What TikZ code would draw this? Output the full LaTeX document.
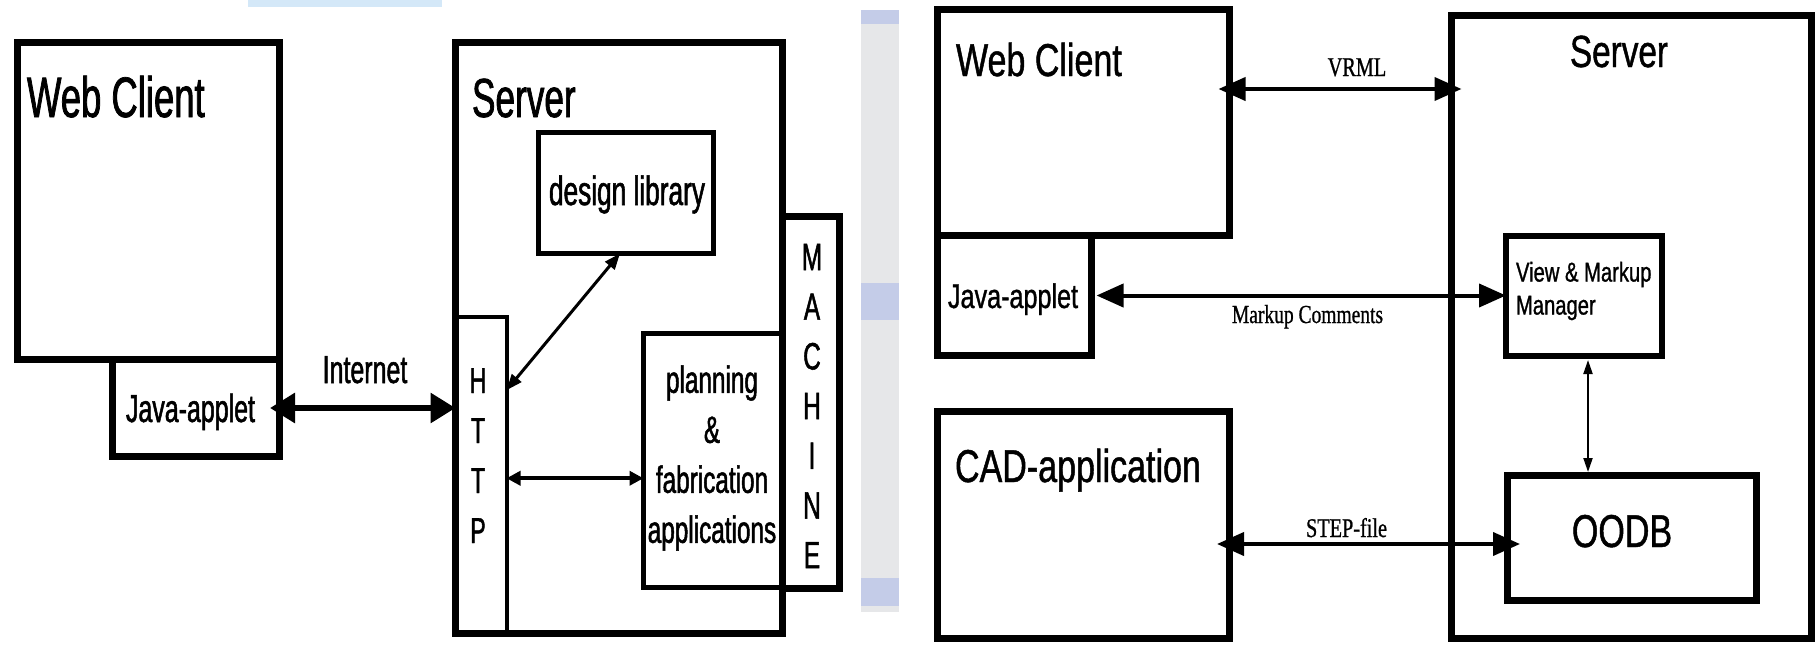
\documentclass[tikz,border=0pt]{standalone}
\usepackage{fontspec}
\setmainfont{Liberation Sans}
% the slide is squeezed sideways, so are its fonts
\newfontfamily\leftsans[FakeStretch=0.64, FakeBold=1.3]{Liberation Sans}
\newfontfamily\rightsans[FakeStretch=0.74, FakeBold=1]{Liberation Sans}
\newfontfamily\rightserif[FakeStretch=0.75, FakeBold=0.8]{Liberation Serif}
\usepackage{tikz}
\usetikzlibrary{
  arrows.meta,%
  calc,%
  positioning
}
\definecolor{topblue}{HTML}{D4E8F8}
\definecolor{stripgrey}{HTML}{E6E7E9}
\definecolor{stripblue}{HTML}{C4CCE8}
\newcommand{\fsz}[1]{\fontsize{#1}{#1}\selectfont}
\tikzset{>=latex}
\tikzset{block/.style={draw, line width=7pt, inner sep=0pt, outer sep=0pt},
  txt/.style={inner sep=0pt, outer sep=0pt, anchor=base west}}

\begin{document}
\begin{tikzpicture}[x=1pt, y=-1pt,
    bigarrow/.style={>={Triangle[length=25pt,width=29pt]}, <->, line width=6pt},
    midarrow/.style={>={Triangle[length=14pt,width=14pt]}, <->, line width=4pt},
    thinarrow/.style={>={Triangle[length=16pt,width=12pt]}, <->, line width=3pt},
    rarrow/.style={>={Triangle[length=27pt,width=23pt]}, <->, line width=4pt},
    tinyarrow/.style={>={Triangle[length=14pt,width=9pt]}, <->, line width=2pt}]
  \useasboundingbox (0,0) rectangle (1820,645);
  \fill[white] (0,0) rectangle (1820,645);
  % bits of the slide background
  \fill[topblue] (248,0) rectangle (442,7);
  \fill[stripgrey] (861,10) rectangle (899,612);
  \fill[stripblue] (861,10) rectangle (899,24);
  \fill[stripblue] (861,283) rectangle (899,320);
  \fill[stripblue] (861,578) rectangle (899,606);

  % left: web client and server with machine
  \node[block, minimum width=262pt, minimum height=317pt] (wc1) at (148.5,201) {};
  \node[block, minimum width=167pt, minimum height=97pt] (ja1) at (196,408) {};
  \node[block, minimum width=327pt, minimum height=591pt] (sv1) at (619,338) {};
  \node[block, line width=4pt, minimum width=51pt, minimum height=316.5pt] (ht1) at (481,475.25) {};
  \node[block, line width=5pt, minimum width=175pt, minimum height=121pt] (dl1) at (626,193) {};
  \node[block, line width=5pt, minimum width=139pt, minimum height=253.5pt] (pl1) at (713,460.25) {};
  \node[block, minimum width=57pt, minimum height=372pt] (ma1) at (811,402.5) {};

  \node[txt, font=\leftsans\fsz{57}] (wc1t) at (27,117) {Web Client};
  \node[txt, font=\leftsans\fsz{39}] (ja1t) at (126,422) {Java-applet};
  \node[txt, anchor=base, font=\leftsans\fsz{39}] (inet) at (365,383) {Internet};
  \node[txt, font=\leftsans\fsz{55}] (sv1t) at (472,117) {Server};
  \node[txt, anchor=base, font=\leftsans\fsz{41}] (dl1t) at (627,205) {design library};
  \node[txt, anchor=center, align=center, font=\leftsans\fontsize{38}{50}\selectfont] (pl1t) at (712,458)
    {planning\\\&\\fabrication\\applications};
  \foreach \ch [count=\i from 0] in {H,T,T,P}
    \node[txt, anchor=base, font=\leftsans\fsz{36}] (http\i) at (478,{393+50*\i}) {\ch};
  \foreach \ch [count=\i from 0] in {M,A,C,H,I,N,E}
    \node[txt, anchor=base, font=\leftsans\fsz{38}] (mach\i) at (812,{270+49.7*\i}) {\ch};

  \draw[bigarrow] ([xshift=-9.5pt]ja1.east) -- (ja1.east -| sv1.west);
  \draw[thinarrow] ([yshift=85pt]ht1.east) -- ([xshift=-6pt]dl1.south);
  \draw[midarrow] ([yshift=-3pt]ht1.east) -- ([yshift=-3pt]ht1.east -| pl1.west);

  % right: web client, CAD and server with database
  \node[block, minimum width=292pt, minimum height=226pt] (wc2) at (1083.5,122.5) {};
  \node[block, minimum width=154pt, minimum height=120pt] (ja2) at (1014.5,295.5) {};
  \node[block, minimum width=292pt, minimum height=227pt] (cad) at (1083.5,525) {};
  \node[block, minimum width=360pt, minimum height=623pt] (sv2) at (1631.5,327) {};
  \node[block, line width=6pt, minimum width=156pt, minimum height=120pt] (vm) at (1584,296) {};
  \node[block, minimum width=249pt, minimum height=125pt] (oodb) at (1632,538) {};

  \node[txt, font=\rightsans\fsz{46}] (wc2t) at (956,76) {Web Client};
  \node[txt, font=\rightsans\fsz{34}] (ja2t) at (948,308) {Java-applet};
  \node[txt, anchor=base, font=\rightsans\fsz{45}] (sv2t) at (1619,67) {Server};
  \node[txt, anchor=west, align=left, font=\rightsans\fontsize{27.3}{33}\selectfont] (vmt) at (1516,291)
    {View \& Markup\\Manager};
  \node[txt, font=\rightsans\fsz{46}] (cadt) at (955,482) {CAD-application};
  \node[txt, anchor=base, font=\rightsans\fsz{46}] (oodbt) at (1622,547) {OODB};

  \node[txt, anchor=base, font=\rightserif\fsz{27}] (vrml) at (1357,76) {VRML};
  \node[txt, anchor=base, font=\rightserif\fsz{26}] (mkc) at (1307.5,323) {Markup Comments};
  \node[txt, anchor=base, font=\rightserif\fsz{27}] (stepf) at (1346.5,537) {STEP-file};

  \draw[rarrow] ($(wc2.east)+(-11,-33.5)$) -- ($(wc2.east -| sv2.west)+(10,-33.5)$);
  \draw[rarrow] ([xshift=5pt]ja2.east) -- (ja2.east -| vm.west);
  \draw[rarrow] ($(cad.east)+(-12.5,19)$) -- ($(cad.east -| oodb.west)+(12.5,19)$);
  \draw[tinyarrow] ($(vm.south)+(4,4)$) -- ($(vm.south |- oodb.north)+(4,-3.5)$);
\end{tikzpicture}
\end{document}
